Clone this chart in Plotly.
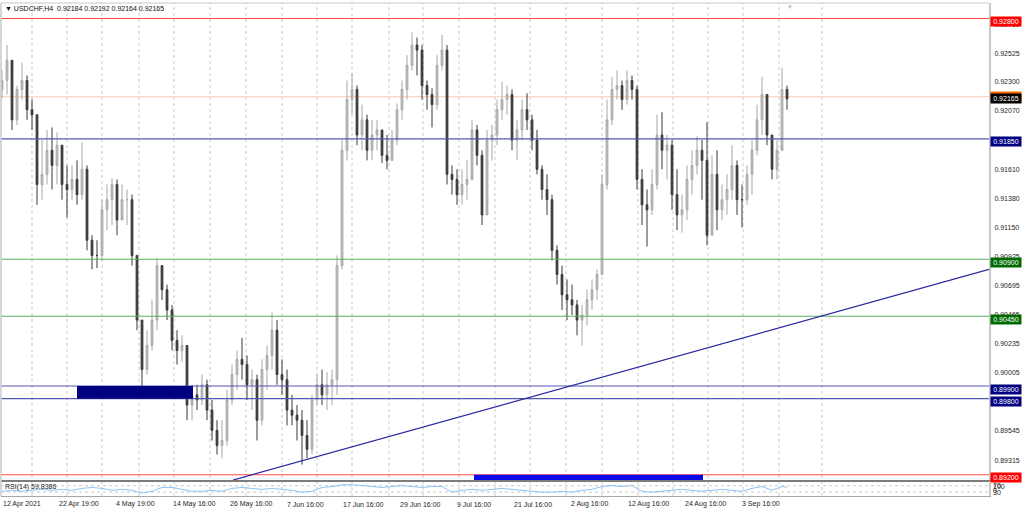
import plotly.graph_objects as go

# ---------------- data ----------------
bar_high = [
    0.9239, 0.9259, 0.9239, 0.9227, 0.9245, 0.9235, 0.9216, 0.9204, 0.9184, 0.9192,
    0.9194, 0.9190, 0.9176, 0.9164, 0.9164, 0.9168, 0.9182, 0.9164, 0.9109, 0.9105,
    0.9137, 0.9149, 0.9154, 0.9153, 0.9149, 0.9145, 0.9141, 0.9093, 0.9042, 0.9034,
    0.9058, 0.9091, 0.9085, 0.9070, 0.9054, 0.9034, 0.9030, 0.9022, 0.8991, 0.8991,
    0.8999, 0.8995, 0.8979, 0.8963, 0.8963, 0.8987, 0.9007, 0.9018, 0.9028, 0.9014,
    0.9003, 0.8999, 0.9011, 0.9022, 0.9048, 0.9042, 0.9011, 0.9003, 0.8983, 0.8975,
    0.8971, 0.8963, 0.8983, 0.8999, 0.9003, 0.9001, 0.9003, 0.9093, 0.9184, 0.9231,
    0.9237, 0.9227, 0.9212, 0.9204, 0.9200, 0.9200, 0.9192, 0.9188, 0.9192, 0.9213,
    0.9231, 0.9251, 0.9269, 0.9265, 0.9259, 0.9231, 0.9225, 0.9251, 0.9267, 0.9259,
    0.9164, 0.9161, 0.9161, 0.9168, 0.9200, 0.9196, 0.9176, 0.9192, 0.9196, 0.9216,
    0.9230, 0.9227, 0.9224, 0.9200, 0.9216, 0.9221, 0.9204, 0.9192, 0.9164, 0.9157,
    0.9141, 0.9101, 0.9085, 0.9074, 0.9070, 0.9058, 0.9054, 0.9066, 0.9074, 0.9082,
    0.9157, 0.9216, 0.9234, 0.9239, 0.9231, 0.9239, 0.9235, 0.9227, 0.9161, 0.9145,
    0.9161, 0.9204, 0.9206, 0.9188, 0.9184, 0.9161, 0.9141, 0.9164, 0.9176, 0.9187,
    0.9184, 0.9198, 0.9172, 0.9176, 0.9149, 0.9157, 0.9180, 0.9168, 0.9149, 0.9164,
    0.9184, 0.9212, 0.9234, 0.9220, 0.9188, 0.9184, 0.9241, 0.9227,
]
bar_low = [
    0.9217, 0.9220, 0.9192, 0.9196, 0.9216, 0.9200, 0.9192, 0.9133, 0.9137, 0.9149,
    0.9145, 0.9149, 0.9137, 0.9123, 0.9137, 0.9133, 0.9137, 0.9097, 0.9082, 0.9083,
    0.9089, 0.9113, 0.9117, 0.9109, 0.9125, 0.9117, 0.9085, 0.9034, 0.8987, 0.8999,
    0.9018, 0.9034, 0.9058, 0.9042, 0.9018, 0.9007, 0.9009, 0.8963, 0.8963, 0.8971,
    0.8975, 0.8963, 0.8947, 0.8936, 0.8933, 0.8943, 0.8975, 0.8987, 0.8995, 0.8979,
    0.8971, 0.8947, 0.8959, 0.8987, 0.9003, 0.8991, 0.8983, 0.8959, 0.8959, 0.8947,
    0.8928, 0.8933, 0.8936, 0.8975, 0.8975, 0.8971, 0.8975, 0.8983, 0.9082, 0.9168,
    0.9204, 0.9180, 0.9176, 0.9168, 0.9168, 0.9176, 0.9166, 0.9161, 0.9168, 0.9180,
    0.9200, 0.9216, 0.9239, 0.9235, 0.9216, 0.9208, 0.9194, 0.9208, 0.9239, 0.9149,
    0.9141, 0.9133, 0.9133, 0.9137, 0.9157, 0.9164, 0.9117, 0.9137, 0.9168, 0.9180,
    0.9200, 0.9204, 0.9176, 0.9168, 0.9184, 0.9192, 0.9176, 0.9157, 0.9137, 0.9125,
    0.9089, 0.9070, 0.9050, 0.9042, 0.9046, 0.9030, 0.9022, 0.9038, 0.9050, 0.9058,
    0.9078, 0.9145, 0.9196, 0.9216, 0.9208, 0.9212, 0.9216, 0.9145, 0.9117, 0.9100,
    0.9125, 0.9145, 0.9161, 0.9153, 0.9129, 0.9113, 0.9111, 0.9121, 0.9141, 0.9157,
    0.9137, 0.9101, 0.9109, 0.9113, 0.9121, 0.9125, 0.9137, 0.9125, 0.9115, 0.9133,
    0.9141, 0.9172, 0.9188, 0.9180, 0.9153, 0.9153, 0.9180, 0.9208,
]
bar_close = [
    0.9231, 0.9247, 0.9200, 0.9224, 0.9231, 0.9208, 0.9204, 0.9149, 0.9157, 0.9176,
    0.9164, 0.9180, 0.9149, 0.9145, 0.9153, 0.9141, 0.9161, 0.9105, 0.9093, 0.9093,
    0.9129, 0.9137, 0.9149, 0.9121, 0.9137, 0.9137, 0.9093, 0.9042, 0.9003, 0.9022,
    0.9042, 0.9085, 0.9066, 0.9050, 0.9026, 0.9018, 0.9022, 0.8975, 0.8983, 0.8979,
    0.8991, 0.8971, 0.8955, 0.8943, 0.8947, 0.8979, 0.8999, 0.9011, 0.9007, 0.8991,
    0.8995, 0.8963, 0.9003, 0.9014, 0.9034, 0.8999, 0.8995, 0.8971, 0.8967, 0.8963,
    0.8951, 0.8940, 0.8979, 0.8991, 0.8983, 0.8991, 0.8995, 0.9085, 0.9176, 0.9216,
    0.9224, 0.9188, 0.9200, 0.9176, 0.9188, 0.9192, 0.9172, 0.9168, 0.9184, 0.9208,
    0.9224, 0.9243, 0.9259, 0.9255, 0.9227, 0.9220, 0.9212, 0.9243, 0.9255, 0.9157,
    0.9153, 0.9141, 0.9149, 0.9153, 0.9192, 0.9172, 0.9125, 0.9184, 0.9188, 0.9208,
    0.9216, 0.9220, 0.9184, 0.9192, 0.9208, 0.9200, 0.9184, 0.9161, 0.9145, 0.9137,
    0.9097, 0.9078, 0.9062, 0.9058, 0.9054, 0.9042, 0.9046, 0.9058, 0.9066, 0.9078,
    0.9149, 0.9200, 0.9224, 0.9227, 0.9216, 0.9231, 0.9224, 0.9153, 0.9133, 0.9129,
    0.9149, 0.9188, 0.9176, 0.9180, 0.9141, 0.9125, 0.9129, 0.9153, 0.9164, 0.9176,
    0.9168, 0.9109, 0.9157, 0.9129, 0.9137, 0.9145, 0.9164, 0.9137, 0.9137, 0.9157,
    0.9176, 0.9200, 0.9220, 0.9188, 0.9161, 0.9176, 0.9224, 0.92165,
]
first_open = 0.9224

rsi_values = [
    35, 41, 35, 41, 47, 41, 47, 41, 53, 59, 53, 41, 47, 41, 24, 35, 59, 59, 47, 35,
    35, 41, 35, 53, 59, 53, 47, 53, 47, 41, 29, 35, 59, 65, 76, 76, 71, 65, 59, 65,
    71, 65, 59, 65, 65, 29, 41, 47, 41, 47, 53, 47, 41, 35, 29, 29, 35, 29, 41, 47,
    65, 71, 65, 71, 35, 29, 35, 41, 47, 41, 35, 41, 47, 41, 35, 53, 65, 41, 65, 59.8386,
]

date_labels = ["12 Apr 2021", "22 Apr 19:00", "4 May 19:00", "14 May 16:00",
               "26 May 16:00", "7 Jun 16:00", "17 Jun 16:00", "29 Jun 16:00",
               "9 Jul 16:00", "21 Jul 16:00", "2 Aug 16:00", "12 Aug 16:00",
               "24 Aug 16:00", "3 Sep 16:00"]
date_label_bars = [0, 11.2, 22.6, 34, 45.4, 56.8, 68, 79.4, 90.8, 102.2,
                   113.6, 125, 136.4, 147.8]

# vertical dotted grid positions (in bar units)
grid_bars = [6, 13, 20, 27.4, 34.4, 41.6, 48.8, 56, 63, 70, 77.4, 84.2, 91.4,
             98.6, 105.6, 112.8, 120, 127.2, 134.2, 141.2, 148.2, 155.4, 164]

price_ticks = [0.92755, 0.92525, 0.92300, 0.92070, 0.91840, 0.91610, 0.91380,
               0.91150, 0.90925, 0.90695, 0.90465, 0.90235, 0.90005, 0.89775,
               0.89545, 0.89315]

level_prices = [0.92800, 0.91850, 0.90900, 0.90450, 0.89900, 0.89800, 0.89200]
level_line_colors = ["#ff4a4a", "#5656b6", "#5eae5e", "#5eae5e", "#5656b6", "#5656b6", "#ff4a4a"]
level_box_colors = ["#ff0000", "#000080", "#006a00", "#006a00", "#000080", "#000080", "#ff0000"]

bid_line_price = 0.92182
ask_label_price = 0.92192
last_price = 0.92165
header_text = "USDCHF,H4\u00a0 0.92184 0.92192 0.92164 0.92165"
rsi_label = "RSI(14) 59.8386"

zone_bars = [[15.0, 38.2], [94.4, 140.2]]
zone_prices = [[0.8980, 0.8990], [0.8914, 0.8920]]
zone_colors = ["#000080", "#0a0ae8"]

trend_bars = [46.2, 197.4]
trend_prices = [0.89158, 0.90820]

x_range = [-0.2, 197.4]
y_range = [0.891583, 0.929218]
rsi_range = [5, 100]

# ---------------- figure ----------------
bars = list(range(len(bar_close)))
opens = [first_open] + bar_close[:-1]
rsi_bars = list(range(0, len(bar_close) - 1, 2)) + [len(bar_close) - 1]

FONT = "Liberation Sans"
fig = go.Figure()

fig.add_trace(go.Candlestick(
    x=bars, open=opens, high=bar_high, low=bar_low, close=bar_close,
    increasing=dict(line=dict(color="#a6a6a6", width=1), fillcolor="#c2c2c2"),
    decreasing=dict(line=dict(color="#383838", width=1), fillcolor="#383838"),
    whiskerwidth=0, showlegend=False, hoverinfo="skip",
    xaxis="x", yaxis="y"))

fig.add_trace(go.Scatter(
    x=rsi_bars, y=rsi_values, mode="lines",
    line=dict(color="#8cc3f6", width=1), showlegend=False, hoverinfo="skip",
    xaxis="x2", yaxis="y2"))

shapes = []
# vertical dotted grid through both panes
for g in grid_bars:
    shapes.append(dict(type="line", xref="x", yref="paper", x0=g, x1=g, y0=0, y1=1,
                       line=dict(color="#c8c8c8", width=1, dash="dot"), layer="below"))
for p, c in zip(level_prices, level_line_colors):
    shapes.append(dict(type="line", xref="paper", yref="y", x0=0, x1=1, y0=p, y1=p,
                       line=dict(color=c, width=1.1), layer="above"))
shapes.append(dict(type="line", xref="paper", yref="y", x0=0, x1=1,
                   y0=bid_line_price, y1=bid_line_price,
                   line=dict(color="#ffc6b0", width=1), layer="below"))
for (b0, b1), (p0, p1), c in zip(zone_bars, zone_prices, zone_colors):
    shapes.append(dict(type="rect", xref="x", yref="y", x0=b0, x1=b1, y0=p0, y1=p1,
                       fillcolor=c, line=dict(width=0), layer="above"))
shapes.append(dict(type="line", xref="x", yref="y", x0=trend_bars[0], x1=trend_bars[1],
                   y0=trend_prices[0], y1=trend_prices[1],
                   line=dict(color="#2828a0", width=1.3), layer="above"))
for lv in (70, 30):
    shapes.append(dict(type="line", xref="paper", yref="y2", x0=0, x1=1, y0=lv, y1=lv,
                       line=dict(color="#c8c8c8", width=1, dash="dot"), layer="below"))
shapes.append(dict(type="line", xref="paper", yref="paper", x0=0, x1=1, y0=1, y1=1,
                   line=dict(color="#c8c8c8", width=1)))
shapes.append(dict(type="line", xref="paper", yref="paper", x0=0, x1=0, y0=0, y1=1,
                   line=dict(color="#c8c8c8", width=1.5)))

annotations = []
small = dict(family=FONT, size=7, color="#1e1e1e")
annotations.append(dict(xref="paper", x=1, xanchor="left", xshift=1, yref="y",
                        y=ask_label_price, yshift=-1, text=f"{ask_label_price:.5f}",
                        showarrow=False, bgcolor="#ff6a00", borderpad=1, width=28,
                        font=dict(family=FONT, size=7, color="#ffffff")))
annotations.append(dict(xref="paper", x=1, xanchor="left", xshift=1, yref="y",
                        y=last_price, yshift=0, text=f"{last_price:.5f}",
                        showarrow=False, bgcolor="#000000", borderpad=1, width=28,
                        font=dict(family=FONT, size=7, color="#ffffff")))
for p, c in zip(level_prices, level_box_colors):
    annotations.append(dict(xref="paper", x=1, xanchor="left", xshift=1, yref="y",
                            y=p, yshift=-3, text=f"{p:.5f}", showarrow=False,
                            bgcolor=c, borderpad=1, width=28,
                            font=dict(family=FONT, size=7, color="#ffffff")))
for lab, b in zip(date_labels, date_label_bars):
    annotations.append(dict(xref="x2", x=b, xanchor="left", xshift=-1,
                            yref="paper", y=0, yanchor="middle", yshift=-8,
                            text=lab, showarrow=False, font=small))
annotations.append(dict(xref="paper", x=0, xanchor="left", xshift=2,
                        yref="paper", y=1, yanchor="top", yshift=0,
                        text="\u25BC " + header_text, showarrow=False,
                        font=dict(family=FONT, size=7, color="#111111")))
annotations.append(dict(xref="x", x=157.6, xanchor="center", yref="paper", y=1,
                        yanchor="top", yshift=1, text="\u25BC", showarrow=False,
                        font=dict(family=FONT, size=6, color="#b8b8b8")))
annotations.append(dict(xref="paper", x=0, xanchor="left", xshift=2,
                        yref="y2 domain", y=1, yanchor="top", yshift=0,
                        text=rsi_label, showarrow=False, font=small))
annotations.append(dict(xref="paper", x=1, xanchor="left", xshift=2, yref="y2 domain",
                        y=1, yanchor="top", text="100", showarrow=False, font=small))
annotations.append(dict(xref="paper", x=1, xanchor="left", xshift=2, yref="y2",
                        y=70, yanchor="middle", text="70", showarrow=False, font=small))
annotations.append(dict(xref="paper", x=1, xanchor="left", xshift=2, yref="y2",
                        y=30, yanchor="middle", text="30", showarrow=False, font=small))
annotations.append(dict(xref="paper", x=1, xanchor="left", xshift=2, yref="y2 domain",
                        y=0, yanchor="bottom", text="0", showarrow=False, font=small))

xbase = dict(showgrid=False, showticklabels=False, ticks="", zeroline=False,
             range=x_range, fixedrange=True)

fig.update_layout(
    template="none",
    width=1024, height=510,
    margin=dict(l=1, r=35, t=3, b=14),
    paper_bgcolor="#ffffff", plot_bgcolor="#ffffff",
    showlegend=False,
    boxgap=0.5,
    xaxis=dict(**xbase, domain=[0, 1], anchor="y", rangeslider=dict(visible=False),
               showline=True, linecolor="#7c7c7c", linewidth=2),
    xaxis2=dict(**xbase, domain=[0, 1], anchor="y2", matches="x",
                showline=True, linecolor="#a8a8a8", linewidth=1),
    yaxis=dict(domain=[0.03245, 1], range=y_range, side="right", anchor="x",
               tickmode="array", tickvals=price_ticks,
               ticktext=[f"{t:.5f}" for t in price_ticks],
               tickfont=dict(family=FONT, size=7, color="#1e1e1e"),
               ticks="", showgrid=False, zeroline=False, showline=True,
               linecolor="#c8c8c8", linewidth=2, ticklabelstandoff=2, fixedrange=True),
    yaxis2=dict(domain=[0, 0.03043], range=rsi_range, side="right", anchor="x2",
                showticklabels=False, ticks="", showgrid=False, zeroline=False,
                showline=True, linecolor="#c8c8c8", linewidth=2, fixedrange=True),
    shapes=shapes,
    annotations=annotations,
)

fig.write_html("out.html", config={"displayModeBar": False})

# remove the default page margin so the 1024x510 figure fills the window exactly
with open("out.html", "r", encoding="utf-8") as fh:
    page = fh.read()
page = page.replace("<head>", "<head><style>html,body{margin:0;padding:0;overflow:hidden;}</style>", 1)
with open("out.html", "w", encoding="utf-8") as fh:
    fh.write(page)
